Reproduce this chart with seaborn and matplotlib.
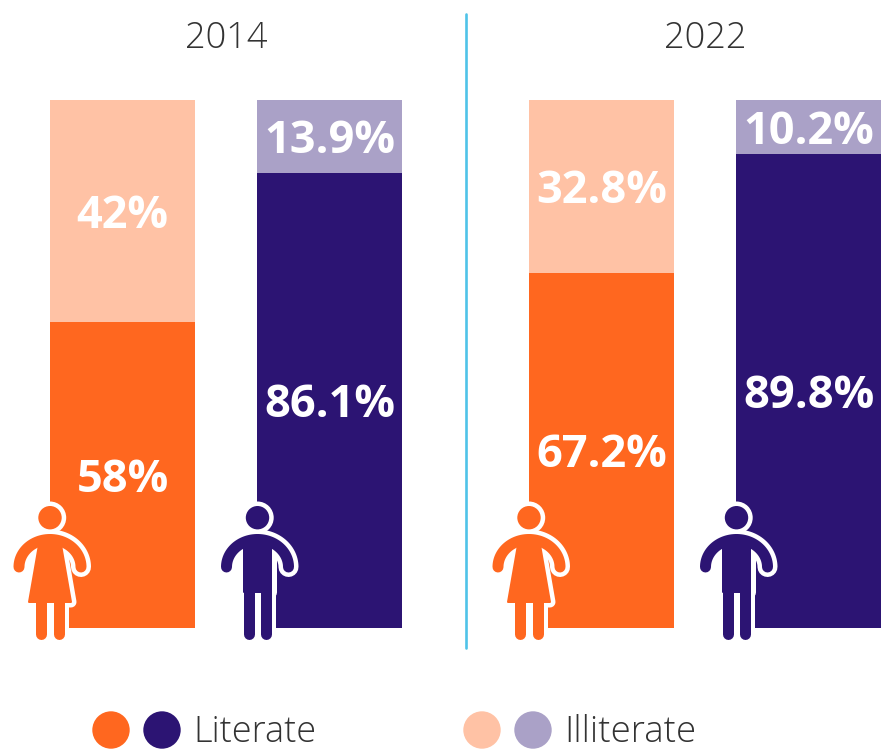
import numpy as np
import pandas as pd
import seaborn as sns
import matplotlib.pyplot as plt
from matplotlib.patches import Circle, Polygon

years = ['2014', '2022']
groups = ['Female', 'Male']
literate = {'2014': [58, 86.1], '2022': [67.2, 89.8]}
illiterate = {'2014': [42, 13.9], '2022': [32.8, 10.2]}
literate_labels = {'2014': ['58%', '86.1%'], '2022': ['67.2%', '89.8%']}
illiterate_labels = {'2014': ['42%', '13.9%'], '2022': ['32.8%', '10.2%']}

ORANGE = '#FF671F'
NAVY = '#2C1473'
LIGHT_ORANGE = '#FFC2A5'
LIGHT_NAVY = '#AAA1C7'
TEXT = '#333333'
W, H = 884, 750

sns.set_theme(style='white')
plt.rcParams['font.family'] = ['Open Sans', 'DejaVu Sans']

fig = plt.figure(figsize=(W / 100, H / 100), dpi=100)


def add_axes_px(x0, x1, y0, y1):
    # y measured from the top of the picture
    return fig.add_axes([x0 / W, 1 - y1 / H, (x1 - x0) / W, (y1 - y0) / H])


# bars
for year, x0 in zip(years, [50, 529]):
    ax = add_axes_px(x0, x0 + 352, 100, 628)
    df = pd.DataFrame({'group': groups,
                       'literate': literate[year],
                       'illiterate': illiterate[year]})
    df['total'] = df['literate'] + df['illiterate']
    sns.barplot(data=df, x='group', y='total', hue='group', width=0.7, ax=ax, linewidth=0,
                palette=[LIGHT_ORANGE, LIGHT_NAVY], legend=False, saturation=1)
    sns.barplot(data=df, x='group', y='literate', hue='group', width=0.7, ax=ax, linewidth=0,
                palette=[ORANGE, NAVY], legend=False, saturation=1)
    for i in range(2):
        lit = df['literate'][i]
        ax.text(i, lit / 2 - 1.0, literate_labels[year][i], color='white', fontsize=32.5,
                fontweight='bold', ha='center', va='center')
        ax.text(i, lit + df['illiterate'][i] / 2 - 1.0, illiterate_labels[year][i],
                color='white', fontsize=32.5, fontweight='bold', ha='center', va='center')
    ax.set_xlim(-0.35, 1.35)
    ax.set_ylim(0, df['total'].max())
    ax.axis('off')

# overlay in pixels for the icons, divider, titles and legend
over = fig.add_axes([0, 0, 1, 1])
over.set_xlim(0, W)
over.set_ylim(H, 0)
over.axis('off')
over.patch.set_alpha(0)

over.plot([465.5, 465.5], [14, 648], color='#4FC3E8', lw=1.9)
over.text(226.5, 38, '2014', color=TEXT, fontsize=26, fontweight='light', ha='center', va='center')
over.text(705.5, 38, '2022', color=TEXT, fontsize=26, fontweight='light', ha='center', va='center')


def person(cx, color, female):
    # icon outline first in white, then the coloured shape on top
    t = np.linspace(0, np.pi, 60)
    arm_x = 31 * np.cos(t)
    arm_y = 567 - 27.5 * np.sin(t)
    if female:
        body = [(cx - 10.2, 540), (cx + 10.2, 540), (cx + 21, 602), (cx - 21, 602)]
    else:
        body = [(cx - 13.2, 540), (cx + 13.2, 540), (cx + 13.2, 592), (cx - 13.2, 592)]
    leg_dx = 8.8
    for col, extra in [('white', 9), (color, 0)]:
        z = 5 if col == 'white' else 6
        over.add_patch(Circle((cx, 517.7), 11.7 + extra / 2, fc=col, ec='none', zorder=z))
        over.plot(cx + arm_x, arm_y, color=col, lw=(11 + extra) * 0.72, solid_capstyle='round',
                  solid_joinstyle='round', zorder=z)
        over.add_patch(Polygon(body, closed=True, fc=col, ec=col, lw=(2 + extra) * 0.72,
                               joinstyle='round', zorder=z))
        for dx in [-leg_dx, leg_dx]:
            over.plot([cx + dx, cx + dx], [590, 634], color=col, lw=(11 + extra) * 0.72,
                      solid_capstyle='round', zorder=z)


for cx, color, female in [(50, ORANGE, True), (257.5, NAVY, False),
                          (529, ORANGE, True), (736.5, NAVY, False)]:
    person(cx, color, female)

# legend
for x, color in [(111, ORANGE), (162, NAVY), (482, LIGHT_ORANGE), (533, LIGHT_NAVY)]:
    over.add_patch(Circle((x, 730), 18.7, fc=color, ec='none'))
over.text(193, 733, 'Literate', color=TEXT, fontsize=26, fontweight='light', ha='left', va='center')
over.text(564, 733, 'Illiterate', color=TEXT, fontsize=26.5, fontweight='light', ha='left', va='center')

fig.savefig('out.png', dpi=100, facecolor='white')
